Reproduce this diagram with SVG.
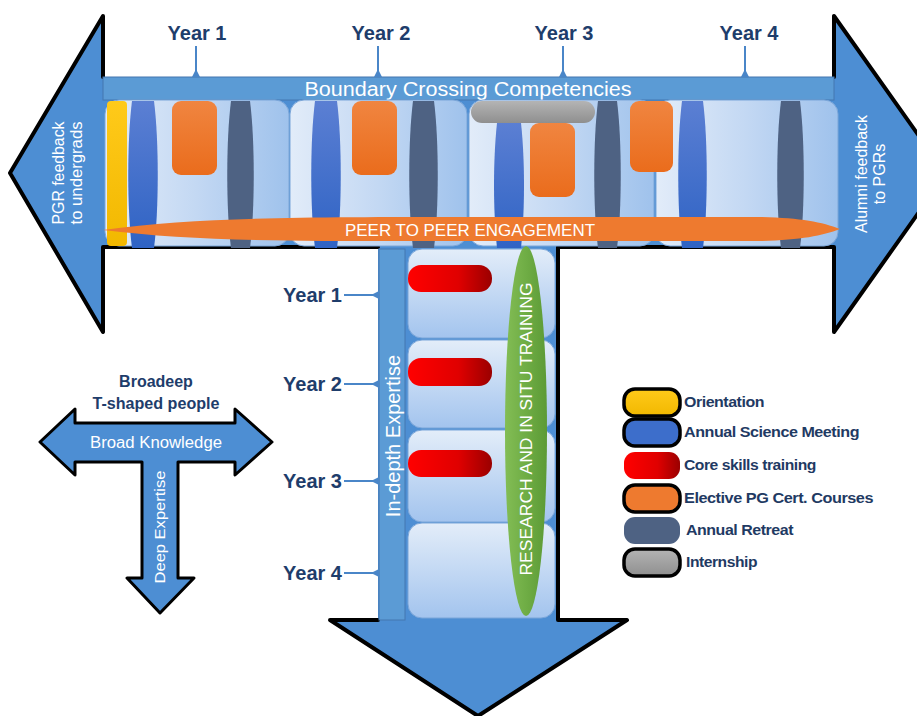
<svg xmlns="http://www.w3.org/2000/svg" width="917" height="716" viewBox="0 0 917 716">
<defs>
<linearGradient id="cellH" x1="0" y1="0" x2="1" y2="0"><stop offset="0" stop-color="#e2ecf9"/><stop offset="0.5" stop-color="#c3d8f3"/><stop offset="1" stop-color="#9fc2ec"/></linearGradient>
<linearGradient id="cellV" x1="0" y1="0" x2="0" y2="1"><stop offset="0" stop-color="#e3edf9"/><stop offset="1" stop-color="#a3c4ee"/></linearGradient>
<linearGradient id="blueBar" x1="0" y1="0" x2="0" y2="1"><stop offset="0" stop-color="#5b7fd3"/><stop offset="1" stop-color="#2f63c4"/></linearGradient>
<linearGradient id="orange" x1="0" y1="0" x2="0" y2="1"><stop offset="0" stop-color="#f08540"/><stop offset="1" stop-color="#ea6c1c"/></linearGradient>
<linearGradient id="red" x1="0" y1="0" x2="1" y2="0"><stop offset="0" stop-color="#ff0000"/><stop offset="0.6" stop-color="#e00000"/><stop offset="1" stop-color="#9a0000"/></linearGradient>
<linearGradient id="green" x1="0" y1="0" x2="1" y2="0"><stop offset="0" stop-color="#83bd55"/><stop offset="0.5" stop-color="#6fad45"/><stop offset="1" stop-color="#5c9a35"/></linearGradient>
<linearGradient id="grey" x1="0" y1="0" x2="0" y2="1"><stop offset="0" stop-color="#b4b4b4"/><stop offset="1" stop-color="#8f8f8f"/></linearGradient>
<linearGradient id="yellow" x1="0" y1="0" x2="0" y2="1"><stop offset="0" stop-color="#ffca1a"/><stop offset="1" stop-color="#f2b800"/></linearGradient>
<style>
.arrowfill{fill:#4d8ed3}
.edge{fill:none;stroke:#000;stroke-width:4;stroke-linejoin:round;stroke-linecap:round}
.cellh{fill:url(#cellH);stroke:#7ba6d9;stroke-width:1}
.cellv{fill:url(#cellV);stroke:#7ba6d9;stroke-width:1}
.sci{fill:url(#blueBar)}
.ret{fill:#4e6283}
.ora{fill:url(#orange)}
.wt{fill:#fff;font-family:"Liberation Sans",Arial,sans-serif}
.yr{fill:#1e3d6b;font-family:"Liberation Sans",Arial,sans-serif;font-weight:bold;font-size:20px}
.tick{fill:none;stroke:#4a86c8;stroke-width:2}
.flare{fill:#4a86c8}
.lg{fill:#1f3a63;font-family:"Liberation Sans",Arial,sans-serif;font-weight:bold;font-size:14px;letter-spacing:-0.4px}
.sw{stroke:#000;stroke-width:3.5}
</style>
</defs>
<rect width="917" height="716" fill="#fff"/>

<g id="main-arrow">
<path class="arrowfill" d="M103,77 L103,16 L10,173 L103,332 L103,247 L378,247 L378,620 L330,620 L478,716 L627,620 L558,620 L558,247 L834,247 L834,332 L946,174 L834,16 L834,77 Z"/>
<path class="edge" d="M103,77 L103,16 L10,173 L103,332 L103,247 L378,247"/>
<path class="edge" d="M378,620 L330,620 L478,716 L627,620 L558,620 L558,247 L834,247 L834,332 L946,174 L834,16 L834,77"/>
<text class="wt" font-size="16" text-anchor="middle" transform="translate(64,173) rotate(-90)" textLength="103" lengthAdjust="spacingAndGlyphs">PGR feedback</text>
<text class="wt" font-size="16" text-anchor="middle" transform="translate(82,173) rotate(-90)" textLength="103" lengthAdjust="spacingAndGlyphs">to undergrads</text>
<text class="wt" font-size="16" text-anchor="middle" transform="translate(867,174) rotate(-90)" textLength="118" lengthAdjust="spacingAndGlyphs">Alumni feedback</text>
<text class="wt" font-size="16" text-anchor="middle" transform="translate(885,174) rotate(-90)">to PGRs</text>
</g>

<g id="boundary-bar">
<rect x="103" y="77" width="731" height="23" fill="#5b9bd5" stroke="#4577b0" stroke-width="1"/>
<text class="wt" x="468" y="96" font-size="20" text-anchor="middle" textLength="327" lengthAdjust="spacingAndGlyphs">Boundary Crossing Competencies</text>
</g>

<g id="year-1-top">
<rect class="cellh" x="105" y="100" width="184" height="146" rx="14"/>
<rect x="107" y="101" width="20" height="145" rx="4" fill="url(#yellow)"/>
<path class="sci" d="M132,101 C127,140 127,210 132,248 L154,248 C159,210 159,140 154,101 Z"/>
<rect class="ora" x="172" y="101" width="45" height="74" rx="9"/>
<path class="ret" d="M231,101 C226,140 226,210 231,248 L250,248 C255,210 255,140 250,101 Z"/>
</g>
<g id="year-2-top">
<rect class="cellh" x="290" y="100" width="177" height="146" rx="14"/>
<path class="sci" d="M315,101 C310,140 310,210 315,248 L337,248 C342,210 342,140 337,101 Z"/>
<rect class="ora" x="352" y="101" width="45" height="74" rx="9"/>
<path class="ret" d="M413,101 C408,140 408,210 413,248 L434,248 C439,210 439,140 434,101 Z"/>
</g>
<g id="year-3-top">
<rect class="cellh" x="469" y="100" width="185" height="146" rx="14"/>
<path class="sci" d="M497,123 C493,160 493,210 497,248 L521,248 C525,210 525,160 521,123 Z"/>
<rect class="ora" x="530" y="123" width="45" height="74" rx="9"/>
<path class="ret" d="M598,101 C593,140 593,210 598,248 L617,248 C622,210 622,140 617,101 Z"/>
<rect x="471" y="101" width="124" height="22" rx="11" fill="url(#grey)"/>
</g>
<g id="year-4-top">
<rect class="cellh" x="656" y="100" width="182" height="146" rx="14"/>
<rect class="ora" x="630" y="101" width="43" height="71" rx="9"/>
<path class="sci" d="M682,101 C677,140 677,210 682,248 L703,248 C708,210 708,140 703,101 Z"/>
<path class="ret" d="M781,101 C776,140 776,210 781,248 L800,248 C805,210 805,140 800,101 Z"/>
</g>

<g id="peer-engagement">
<path d="M103,230 C200,217 300,217 470,217 L760,217 C800,218 822,222 840,229 C822,236 800,240 760,241 L470,241 C300,241 200,242 103,230 Z" fill="#ee7a2f"/>
<text class="wt" x="470" y="236" font-size="17" text-anchor="middle" textLength="250" lengthAdjust="spacingAndGlyphs">PEER TO PEER ENGAGEMENT</text>
</g>

<g id="in-depth-bar">
<rect x="379" y="249" width="26" height="371" fill="#5b9bd5" stroke="#4577b0" stroke-width="1"/>
<text class="wt" font-size="20" text-anchor="middle" transform="translate(400,436) rotate(-90)">In-depth Expertise</text>
</g>

<g id="year-1-stem">
<rect class="cellv" x="408" y="249" width="147" height="89" rx="14"/>
<rect x="408" y="265" width="84" height="27" rx="13" fill="url(#red)"/>
</g>
<g id="year-2-stem">
<rect class="cellv" x="408" y="340" width="147" height="88" rx="14"/>
<rect x="408" y="358" width="84" height="28" rx="13" fill="url(#red)"/>
</g>
<g id="year-3-stem">
<rect class="cellv" x="408" y="430" width="147" height="92" rx="14"/>
<rect x="408" y="450" width="84" height="27" rx="13" fill="url(#red)"/>
</g>
<g id="year-4-stem">
<rect class="cellv" x="408" y="523" width="147" height="95" rx="14"/>
</g>

<g id="research-training">
<ellipse cx="526" cy="431" rx="21" ry="185" fill="url(#green)"/>
<text class="wt" font-size="17" text-anchor="middle" transform="translate(532,429) rotate(-90)" textLength="293" lengthAdjust="spacingAndGlyphs">RESEARCH AND IN SITU TRAINING</text>
</g>

<g id="connectors">
<line class="tick" x1="196" y1="46" x2="196" y2="77"/><path class="flare" d="M192,77 L196,69 L200,77 Z"/>
<line class="tick" x1="378" y1="46" x2="378" y2="77"/><path class="flare" d="M374,77 L378,69 L382,77 Z"/>
<line class="tick" x1="563" y1="46" x2="563" y2="77"/><path class="flare" d="M559,77 L563,69 L567,77 Z"/>
<line class="tick" x1="745" y1="46" x2="745" y2="77"/><path class="flare" d="M741,77 L745,69 L749,77 Z"/>
<line class="tick" x1="344" y1="295" x2="379" y2="295"/><path class="flare" d="M379,291 L371,295 L379,299 Z"/>
<line class="tick" x1="344" y1="384" x2="379" y2="384"/><path class="flare" d="M379,380 L371,384 L379,388 Z"/>
<line class="tick" x1="344" y1="481" x2="379" y2="481"/><path class="flare" d="M379,477 L371,481 L379,485 Z"/>
<line class="tick" x1="344" y1="573" x2="379" y2="573"/><path class="flare" d="M379,569 L371,573 L379,577 Z"/>
</g>

<g id="year-labels">
<text class="yr" x="197" y="40" text-anchor="middle">Year 1</text>
<text class="yr" x="381" y="40" text-anchor="middle">Year 2</text>
<text class="yr" x="564" y="40" text-anchor="middle">Year 3</text>
<text class="yr" x="749" y="40" text-anchor="middle">Year 4</text>
<text class="yr" x="342" y="302" text-anchor="end">Year 1</text>
<text class="yr" x="342" y="391" text-anchor="end">Year 2</text>
<text class="yr" x="342" y="488" text-anchor="end">Year 3</text>
<text class="yr" x="342" y="580" text-anchor="end">Year 4</text>
</g>

<g id="t-shape">
<text x="156" y="387" text-anchor="middle" font-family="Liberation Sans, Arial, sans-serif" font-weight="bold" font-size="16" fill="#1e3d6b">Broadeep</text>
<text x="156" y="409" text-anchor="middle" font-family="Liberation Sans, Arial, sans-serif" font-weight="bold" font-size="16" fill="#1e3d6b" textLength="127" lengthAdjust="spacingAndGlyphs">T-shaped people</text>
<path d="M40,442 L75,409 L75,423 L235,423 L235,409 L272,442 L235,475 L235,462 L178,462 L178,578 L194,578 L160,613 L127,578 L142,578 L142,462 L75,462 L75,475 Z" fill="#4d8ed3" stroke="#000" stroke-width="3" stroke-linejoin="round"/>
<text class="wt" x="156" y="448" font-size="16" text-anchor="middle" textLength="132" lengthAdjust="spacingAndGlyphs">Broad Knowledge</text>
<text class="wt" font-size="15" text-anchor="middle" transform="translate(165,527) rotate(-90)" textLength="113" lengthAdjust="spacingAndGlyphs">Deep Expertise</text>
</g>

<g id="legend">
<rect class="sw" x="624" y="389" width="56" height="27" rx="11" fill="url(#yellow)"/>
<text class="lg" x="684" y="407" textLength="80" lengthAdjust="spacingAndGlyphs">Orientation</text>
<rect class="sw" x="624" y="419" width="56" height="27" rx="11" fill="#3d6ecb"/>
<text class="lg" x="684" y="437" textLength="175" lengthAdjust="spacingAndGlyphs">Annual Science Meeting</text>
<rect x="624" y="452" width="56" height="27" rx="11" fill="url(#red)"/>
<text class="lg" x="684" y="470" textLength="132" lengthAdjust="spacingAndGlyphs">Core skills training</text>
<rect class="sw" x="624" y="485" width="56" height="27" rx="11" fill="#ee7a2f"/>
<text class="lg" x="684" y="503" textLength="189" lengthAdjust="spacingAndGlyphs">Elective PG Cert. Courses</text>
<rect x="624" y="517" width="56" height="27" rx="11" fill="#4e6283"/>
<text class="lg" x="686" y="535" textLength="107" lengthAdjust="spacingAndGlyphs">Annual Retreat</text>
<rect class="sw" x="624" y="549" width="56" height="27" rx="11" fill="url(#grey)"/>
<text class="lg" x="686" y="567" textLength="71" lengthAdjust="spacingAndGlyphs">Internship</text>
</g>
</svg>
